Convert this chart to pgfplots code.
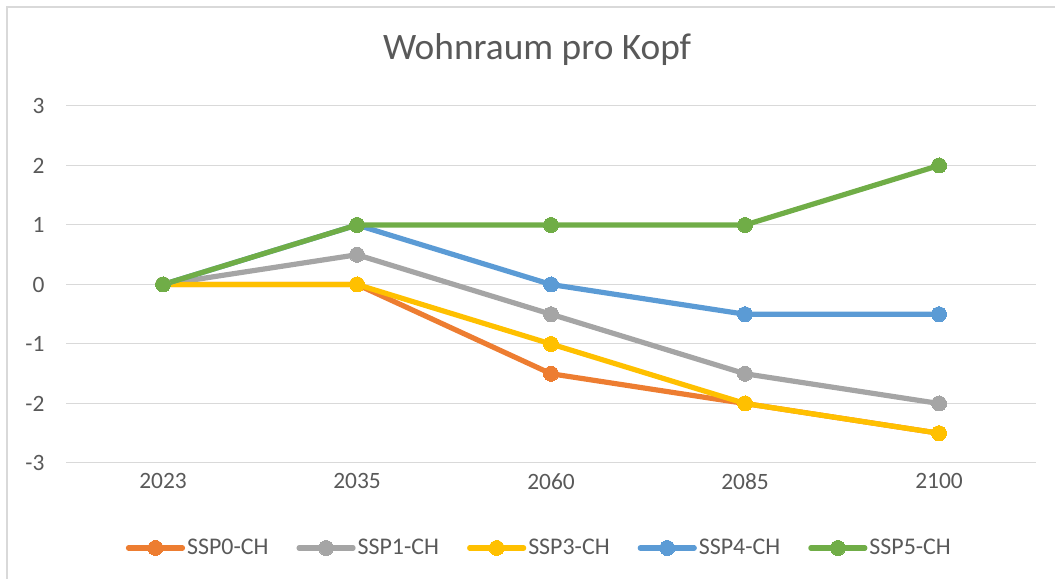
\documentclass[border=0pt]{standalone}
\usepackage{pgfplots}
\pgfplotsset{compat=1.18}
\usepackage{fontspec}
\setmainfont{Carlito}
\definecolor{cOrange}{HTML}{ED7D31}
\definecolor{cGray}{HTML}{A5A5A5}
\definecolor{cYellow}{HTML}{FFC000}
\definecolor{cBlue}{HTML}{5B9BD5}
\definecolor{cGreen}{HTML}{70AD47}
\definecolor{txt}{HTML}{595959}
\definecolor{grd}{HTML}{D9D9D9}
\pgfplotsset{ser/.style={color=#1, line width=5.2bp, line join=round, mark=*, mark size=7.5bp,
  mark options={fill=#1, draw=#1, line width=0pt}}}
\begin{document}
\begin{tikzpicture}[x=1bp,y=1bp]
\useasboundingbox (0,0) rectangle (1055,579);
\draw[grd, line width=1.2bp] (7,0) -- (7,572) -- (1055,572);
\begin{axis}[
  at={(66bp,116bp)}, anchor=south west,
  scale only axis, width=970bp, height=357bp,
  xmin=-0.5, xmax=4.5, ymin=-3, ymax=3,
  xtick={0,1,2,3,4}, xticklabels={2023,2035,2060,2085,2100},
  ytick={-3,-2,-1,0,1,2,3},
  axis x line*=bottom, axis y line*=left,
  x axis line style={grd, line width=1bp, -},
  y axis line style={draw=none},
  ymajorgrids, grid style={grd, line width=1bp},
  major tick length=0pt,
  tick label style={font=\fontsize{23.5}{28}\selectfont, text=txt},
  /pgf/number format/assume math mode=true,
  yticklabel style={anchor=east, xshift=-18bp},
  xticklabel style={yshift=-7bp},
  clip=false,
  title={Wohnraum pro Kopf},
  title style={font=\fontsize{37.5}{44}\selectfont, text=txt, at={(0.4856,1.113)}, anchor=base},
  legend columns=5,
  legend style={draw=none, fill=none, at={(0.488,-0.238)}, anchor=center,
    font=\fontsize{24}{28}\selectfont, text=txt,
    /tikz/every even column/.append style={column sep=26bp},
    inner sep=0pt},
  legend image code/.code={
    \draw[#1, mark=none, line cap=round] (0bp,0bp) -- (54bp,0bp);
    \draw[#1, only marks] plot coordinates {(27bp,0bp)};
  },
]
\addplot[ser=cOrange] coordinates {(0,0) (1,0) (2,-1.5) (3,-2) (4,-2.5)};
\addlegendentry{SSP0-CH}
\addplot[ser=cGray] coordinates {(0,0) (1,0.5) (2,-0.5) (3,-1.5) (4,-2)};
\addlegendentry{SSP1-CH}
\addplot[ser=cYellow] coordinates {(0,0) (1,0) (2,-1) (3,-2) (4,-2.5)};
\addlegendentry{SSP3-CH}
\addplot[ser=cBlue] coordinates {(0,0) (1,1) (2,0) (3,-0.5) (4,-0.5)};
\addlegendentry{SSP4-CH}
\addplot[ser=cGreen] coordinates {(0,0) (1,1) (2,1) (3,1) (4,2)};
\addlegendentry{SSP5-CH}
\end{axis}
\end{tikzpicture}
\end{document}
